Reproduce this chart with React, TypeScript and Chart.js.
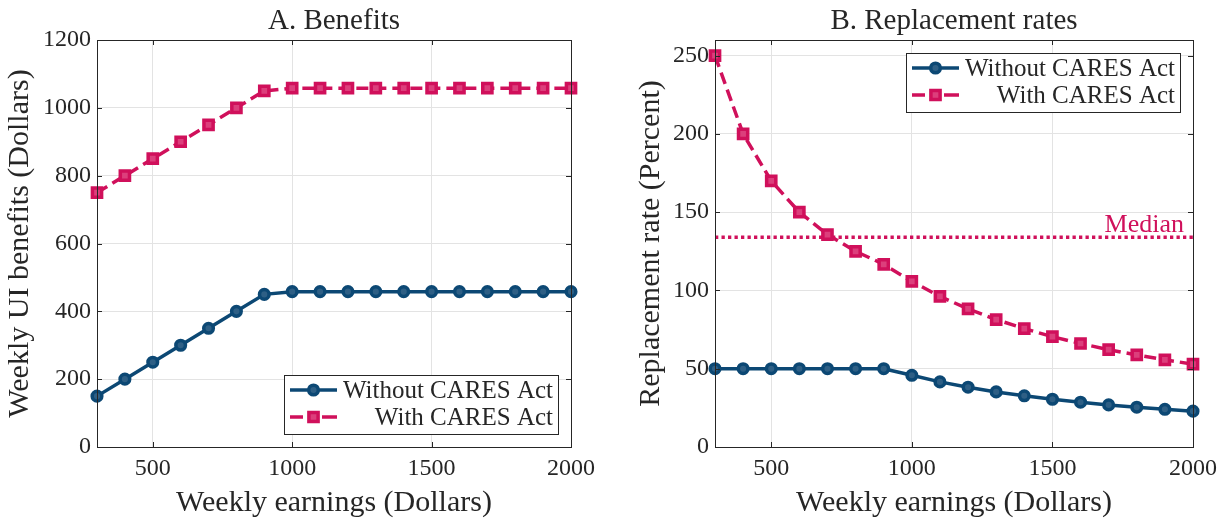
import React, { useEffect, useRef } from "react";
import { Chart, registerables } from "chart.js";
Chart.register(...registerables);

const earnings = [300, 400, 500, 600, 700, 800, 900, 1000, 1100, 1200, 1300, 1400, 1500, 1600, 1700, 1800, 1900, 2000];
const benefitsWithout = [150, 200, 250, 300, 350, 400, 450, 458, 458, 458, 458, 458, 458, 458, 458, 458, 458, 458];
const benefitsWith = [750, 800, 850, 900, 950, 1000, 1050, 1058, 1058, 1058, 1058, 1058, 1058, 1058, 1058, 1058, 1058, 1058];
const rateWithout = [50, 50, 50, 50, 50, 50, 50, 45.8, 41.6, 38.2, 35.2, 32.7, 30.5, 28.6, 26.9, 25.4, 24.1, 22.9];
const rateWith = [250, 200, 170, 150, 135.7, 125, 116.7, 105.8, 96.2, 88.2, 81.4, 75.6, 70.5, 66.1, 62.2, 58.8, 55.7, 52.9];
const medianRate = 134;
const xTicks = [500, 1000, 1500, 2000];
const yTicksA = [0, 200, 400, 600, 800, 1000, 1200];
const yTicksB = [0, 50, 100, 150, 200, 250];
const seriesLabels = ["Without CARES Act", "With CARES Act"];
const panelTitles = ["A. Benefits", "B. Replacement rates"];
const xTitle = "Weekly earnings (Dollars)";
const yTitles = ["Weekly UI benefits (Dollars)", "Replacement rate (Percent)"];
const medianLabel = "Median";

const BLUE = "#0c4874";
const BLUE_IN = "#2e5f85";
const PINK = "#d0105b";
const PINK_IN = "#dc3f7c";
const AXIS = "#262626";
const GRID = "#e3e3e3";
const FONT = "'Liberation Serif', 'Times New Roman', serif";
const PINK_DASH = [12, 6];

function drawMarker(ctx: CanvasRenderingContext2D, kind: string, x: number, y: number, color: string, fill: string) {
  ctx.save();
  ctx.setLineDash([]);
  ctx.lineWidth = 3.5;
  ctx.strokeStyle = color;
  ctx.fillStyle = fill;
  ctx.beginPath();
  if (kind === "circle") {
    ctx.arc(x, y, 4.8, 0, Math.PI * 2);
  } else {
    ctx.rect(x - 4.6, y - 4.6, 9.2, 9.2);
  }
  ctx.fill();
  ctx.stroke();
  ctx.restore();
}

const decorPlugin = {
  id: "decor",
  afterDraw(chart: any, _args: any, opts: any) {
    const ctx: CanvasRenderingContext2D = chart.ctx;
    const a = chart.chartArea;
    const xs = chart.scales.x;
    const ys = chart.scales.y;
    ctx.save();
    // frame
    ctx.strokeStyle = AXIS;
    ctx.lineWidth = 1;
    ctx.setLineDash([]);
    ctx.strokeRect(Math.round(a.left) + 0.5, Math.round(a.top) + 0.5, Math.round(a.right - a.left), Math.round(a.bottom - a.top));
    const tl = 5;
    ctx.beginPath();
    for (const v of opts.xTicks) {
      const px = Math.round(xs.getPixelForValue(v)) + 0.5;
      ctx.moveTo(px, a.bottom);
      ctx.lineTo(px, a.bottom - tl);
      ctx.moveTo(px, a.top);
      ctx.lineTo(px, a.top + tl);
    }
    for (const v of opts.yTicks) {
      const py = Math.round(ys.getPixelForValue(v)) + 0.5;
      ctx.moveTo(a.left, py);
      ctx.lineTo(a.left + tl, py);
      ctx.moveTo(a.right, py);
      ctx.lineTo(a.right - tl, py);
    }
    ctx.stroke();
    // title
    ctx.fillStyle = AXIS;
    ctx.font = `29px ${FONT}`;
    ctx.textAlign = "center";
    ctx.textBaseline = "alphabetic";
    ctx.fillText(opts.title, (a.left + a.right) / 2, 29);
    // median label
    if (opts.median) {
      ctx.fillStyle = PINK;
      ctx.font = `26px ${FONT}`;
      ctx.textAlign = "right";
      ctx.fillText(medianLabel, a.right - 9, ys.getPixelForValue(medianRate) - 5);
    }
    // legend
    const w = 274, h = 59;
    const lx = a.right - 13 - w;
    const ly = opts.legendTop ? a.top + 13 : a.bottom - 13 - h;
    ctx.fillStyle = "#ffffff";
    ctx.fillRect(lx, ly, w, h);
    ctx.strokeStyle = AXIS;
    ctx.lineWidth = 1;
    ctx.strokeRect(Math.round(lx) + 0.5, Math.round(ly) + 0.5, w, h);
    const rows = [
      { label: seriesLabels[0], color: BLUE, fill: BLUE_IN, kind: "circle", segs: [[6, 53]] },
      { label: seriesLabels[1], color: PINK, fill: PINK_IN, kind: "rect", segs: [[6, 19], [38, 53]] },
    ];
    rows.forEach((r, i) => {
      const cy = ly + 15 + i * 27;
      ctx.save();
      ctx.strokeStyle = r.color;
      ctx.lineWidth = 3.5;
      ctx.setLineDash([]);
      ctx.beginPath();
      for (const [s0, s1] of r.segs) {
        ctx.moveTo(lx + s0, cy);
        ctx.lineTo(lx + s1, cy);
      }
      ctx.stroke();
      ctx.restore();
      drawMarker(ctx, r.kind, lx + 29.5, cy, r.color, r.fill);
      ctx.fillStyle = AXIS;
      ctx.font = `25px ${FONT}`;
      ctx.textAlign = "right";
      ctx.textBaseline = "middle";
      ctx.fillText(r.label, lx + w - 5, cy + 1);
    });
    ctx.restore();
  },
};

function makeConfig(panel: number): any {
  const isA = panel === 0;
  const yWithout = isA ? benefitsWithout : rateWithout;
  const yWith = isA ? benefitsWith : rateWith;
  const yTicks = isA ? yTicksA : yTicksB;
  const datasets: any[] = [
    {
      label: seriesLabels[0],
      data: earnings.map((x, i) => ({ x, y: yWithout[i] })),
      borderColor: BLUE,
      backgroundColor: BLUE,
      borderWidth: 3.5,
      pointStyle: "circle",
      pointRadius: 4.8,
      pointBorderWidth: 3.5,
      pointBackgroundColor: BLUE_IN,
      pointBorderColor: BLUE,
      tension: 0,
      clip: false,
      order: 2,
    },
    {
      label: seriesLabels[1],
      data: earnings.map((x, i) => ({ x, y: yWith[i] })),
      borderColor: PINK,
      backgroundColor: PINK,
      borderWidth: 3.5,
      borderDash: PINK_DASH,
      pointStyle: "rect",
      pointRadius: 6.5,
      pointBorderWidth: 3.5,
      pointBackgroundColor: PINK_IN,
      pointBorderColor: PINK,
      tension: 0,
      clip: false,
      order: 1,
    },
  ];
  if (!isA) {
    datasets.push({
      label: medianLabel,
      data: [
        { x: earnings[0], y: medianRate },
        { x: earnings[earnings.length - 1], y: medianRate },
      ],
      borderColor: PINK,
      borderWidth: 3.3,
      borderDash: [3.3, 3.2],
      pointRadius: 0,
      tension: 0,
      order: 3,
    });
  }
  return {
    type: "line",
    data: { datasets },
    plugins: [decorPlugin],
    options: {
      animation: false,
      responsive: false,
      maintainAspectRatio: false,
      layout: { padding: isA ? { top: 40, right: 41, left: 0, bottom: 0 } : { top: 40, right: 32, left: 19, bottom: 0 } },
      plugins: {
        legend: { display: false },
        tooltip: { enabled: false },
        title: { display: false },
        decor: {
          title: panelTitles[panel],
          median: !isA,
          legendTop: !isA,
          xTicks,
          yTicks,
        },
      },
      scales: {
        x: {
          type: "linear",
          min: 300,
          max: 2000,
          afterBuildTicks: (s: any) => {
            s.ticks = xTicks.map((v) => ({ value: v }));
          },
          afterFit: (s: any) => {
            s.height = 74;
          },
          grid: { color: GRID, lineWidth: 1, drawTicks: false },
          border: { display: false },
          ticks: {
            color: AXIS,
            font: { family: FONT, size: 24 },
            padding: 7,
            maxRotation: 0,
            callback: (v: any) => String(v),
          },
          title: {
            display: true,
            text: xTitle,
            color: AXIS,
            font: { family: FONT, size: 30 },
            padding: { top: 0, bottom: 0 },
          },
        },
        y: {
          type: "linear",
          min: 0,
          max: isA ? 1200 : 260,
          afterBuildTicks: (s: any) => {
            s.ticks = yTicks.map((v) => ({ value: v }));
          },
          afterFit: (s: any) => {
            s.width = isA ? 97 : 84;
          },
          grid: { color: GRID, lineWidth: 1, drawTicks: false },
          border: { display: false },
          ticks: {
            color: AXIS,
            font: { family: FONT, size: 24 },
            padding: 6,
            callback: (v: any) => String(v),
          },
          title: {
            display: true,
            text: yTitles[panel],
            color: AXIS,
            font: { family: FONT, size: 30 },
            padding: { top: 2, bottom: 0 },
          },
        },
      },
    },
  };
}

function Panel({ panel, left, width }: { panel: number; left: number; width: number }) {
  const ref = useRef<HTMLCanvasElement | null>(null);
  useEffect(() => {
    if (!ref.current) return;
    const chart = new Chart(ref.current, makeConfig(panel));
    return () => chart.destroy();
  }, [panel]);
  return (
    <canvas
      ref={ref}
      width={width}
      height={521}
      style={{ position: "absolute", left, top: 0, width, height: 521, display: "block" }}
    />
  );
}

export default function App() {
  return (
    <div style={{ position: "absolute", left: 0, top: 0, width: 1225, height: 521, background: "#ffffff", overflow: "hidden" }}>
      <Panel panel={0} left={0} width={612} />
      <Panel panel={1} left={612} width={613} />
    </div>
  );
}
